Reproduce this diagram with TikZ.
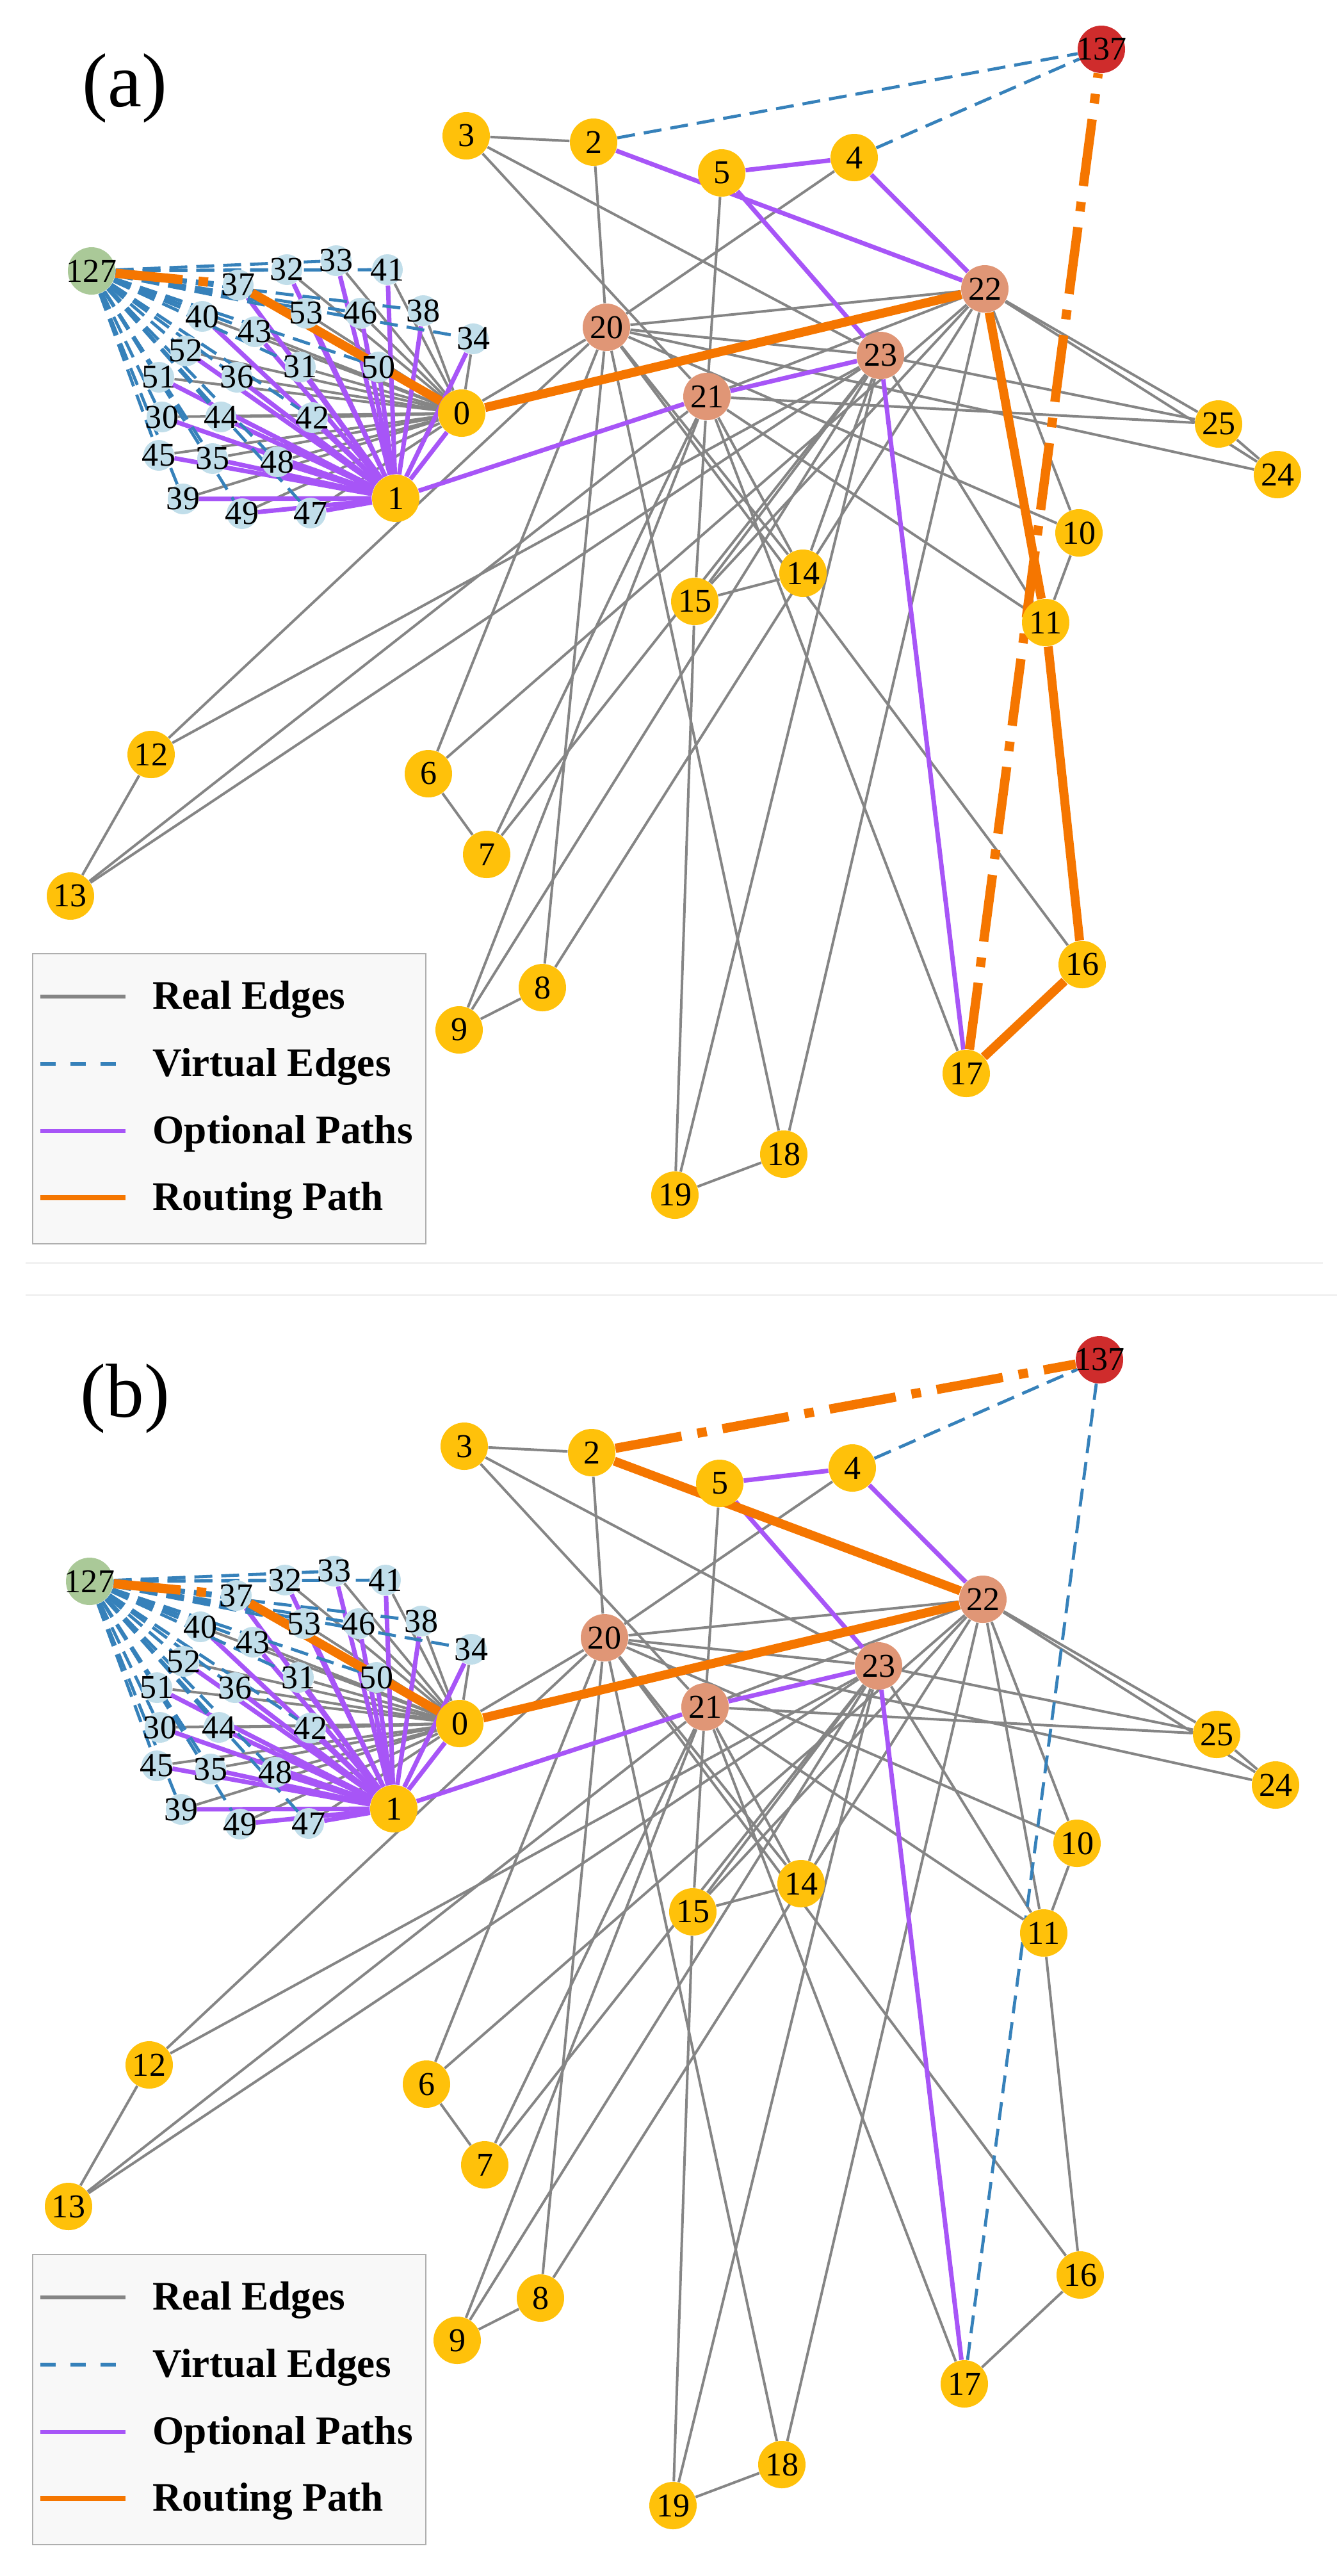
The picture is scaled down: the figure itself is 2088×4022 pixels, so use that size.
\documentclass[tikz,border=0pt]{standalone}
\usepackage{fontspec}
\setmainfont{Liberation Serif}
\usetikzlibrary{backgrounds}
\definecolor{satyellow}{RGB}{255,193,10}
\definecolor{hubsalmon}{RGB}{224,150,118}
\definecolor{gsblue}{RGB}{193,222,234}
\definecolor{srcgreen}{RGB}{170,201,152}
\definecolor{dstred}{RGB}{207,44,44}
\definecolor{realgray}{RGB}{133,133,133}
\definecolor{virtblue}{RGB}{54,129,186}
\definecolor{optpurple}{RGB}{167,85,247}
\definecolor{routeorange}{RGB}{245,118,0}
\definecolor{legendframe}{RGB}{175,175,175}
\definecolor{legendfill}{RGB}{248,248,248}
\definecolor{sepgray}{RGB}{236,236,236}
\tikzset{
  sat/.style={circle,fill=satyellow,minimum size=7.4mm,inner sep=0pt},
  hub/.style={sat,fill=hubsalmon},
  gs/.style={circle,fill=gsblue,minimum size=4.8mm,inner sep=0pt},
  src/.style={sat,fill=srcgreen},
  dst/.style={sat,fill=dstred},
  num/.style={inner sep=0pt,font=\fontsize{14.8}{15}\selectfont},
  realedge/.style={draw=realgray,line width=0.4mm},
  virtedge/.style={draw=virtblue,line width=0.48mm,dash pattern=on 2.8mm off 1.4mm},
  optedge/.style={draw=optpurple,line width=0.7mm},
  routeedge/.style={draw=routeorange,line width=1.4mm},
  routevirt/.style={draw=routeorange,line width=1.45mm,dash pattern=on 10.5mm off 2.5mm on 1.5mm off 2.5mm},
  legtext/.style={anchor=base west,inner sep=0pt,font=\bfseries\fontsize{18}{20}\selectfont},
  panellabel/.style={anchor=base west,inner sep=0pt,font=\fontsize{34}{36}\selectfont},
}

% all nodes of one panel, #1 = panel prefix
\newcommand{\graphnodes}[1]{%
  \node[src] (#1-127) at (143,423) {};
  \node[dst] (#1-137) at (1720,77) {};
  \node[sat] (#1-0) at (721,645) {};
  \node[sat] (#1-1) at (618,778) {};
  \node[sat] (#1-2) at (927,222) {};
  \node[sat] (#1-3) at (728,212) {};
  \node[sat] (#1-4) at (1334,246) {};
  \node[sat] (#1-5) at (1127,270) {};
  \node[sat] (#1-6) at (669,1208) {};
  \node[sat] (#1-7) at (760,1334) {};
  \node[sat] (#1-8) at (847,1542) {};
  \node[sat] (#1-9) at (717,1608) {};
  \node[sat] (#1-10) at (1685,832) {};
  \node[sat] (#1-11) at (1633,972) {};
  \node[sat] (#1-12) at (236,1178) {};
  \node[sat] (#1-13) at (110,1399) {};
  \node[sat] (#1-14) at (1254,895) {};
  \node[sat] (#1-15) at (1085,939) {};
  \node[sat] (#1-16) at (1690,1506) {};
  \node[sat] (#1-17) at (1509,1676) {};
  \node[sat] (#1-18) at (1224,1802) {};
  \node[sat] (#1-19) at (1054,1866) {};
  \node[hub] (#1-20) at (947,511) {};
  \node[hub] (#1-21) at (1104,619) {};
  \node[hub] (#1-22) at (1538,451) {};
  \node[hub] (#1-23) at (1375,555) {};
  \node[sat] (#1-24) at (1995,741) {};
  \node[sat] (#1-25) at (1903,662) {};
  % ground cluster
  \node[gs] (#1-30) at (253,651) {};
  \node[gs] (#1-31) at (469,573) {};
  \node[gs] (#1-32) at (448,421) {};
  \node[gs] (#1-33) at (525,407) {};
  \node[gs] (#1-34) at (739,529) {};
  \node[gs] (#1-35) at (332,716) {};
  \node[gs] (#1-36) at (370,589) {};
  \node[gs] (#1-37) at (372,445) {};
  \node[gs] (#1-38) at (661,485) {};
  \node[gs] (#1-39) at (286,779) {};
  \node[gs] (#1-40) at (316,494) {};
  \node[gs] (#1-41) at (605,421) {};
  \node[gs] (#1-42) at (488,652) {};
  \node[gs] (#1-43) at (398,518) {};
  \node[gs] (#1-44) at (345,651) {};
  \node[gs] (#1-45) at (248,711) {};
  \node[gs] (#1-46) at (563,489) {};
  \node[gs] (#1-47) at (485,801) {};
  \node[gs] (#1-48) at (433,721) {};
  \node[gs] (#1-49) at (378,802) {};
  \node[gs] (#1-50) at (591,573) {};
  \node[gs] (#1-51) at (248,589) {};
  \node[gs] (#1-52) at (290,548) {};
  \node[gs] (#1-53) at (478,489) {};
  % numbers on top
  \foreach \n in {0,...,25} \node[num] (#1-\n-t) at (#1-\n) {\n};
  \foreach \n in {30,...,53} \node[num] (#1-\n-t) at (#1-\n) {\n};
  \node[num] (#1-127-t) at (#1-127) {127};
  \node[num] (#1-137-t) at (#1-137) {137};
}

\newcommand{\realedges}[1]{%
  \foreach \u/\v in {3/2,3/21,3/23,2/20,4/20,5/21,
      20/0,20/22,20/23,20/12,20/6,20/8,20/18,20/16,20/14,20/10,20/24,
      21/22,21/15,21/11,21/25,21/17,21/14,21/9,21/7,21/13,
      22/18,22/8,22/6,22/24,22/25,22/10,22/15,
      23/12,23/13,23/7,23/9,23/19,23/15,23/14,23/25,23/11,
      12/13,6/7,8/9,18/19,14/15,10/11,25/24,15/19}
    \draw[realedge] (#1-\u) -- (#1-\v);
  \foreach \c in {30,...,53} \draw[realedge] (#1-\c) -- (#1-0);
}
\newcommand{\optedges}[1]{%
  \foreach \c in {30,...,53} \draw[optedge] (#1-\c) -- (#1-1);
  \foreach \u/\v in {0/1,1/21,21/23,23/17,5/23,5/4,4/22}
    \draw[optedge] (#1-\u) -- (#1-\v);
}
\newcommand{\virtedges}[1]{%
  \foreach \c in {30,...,53} \draw[virtedge] (#1-127) -- (#1-\c);
}

% legend, #1 = prefix, #2 = top of the frame
\newcommand{\legendbox}[2]{%
  \node[draw=legendframe,fill=legendfill,line width=0.2mm,anchor=north west,
        minimum width=61.4mm,minimum height=45.3mm,inner sep=0pt] (#1-legend) at (50,#2) {};
  \coordinate (#1-l1a) at (63,{#2+68});  \coordinate (#1-l1b) at (196,{#2+68});
  \coordinate (#1-l2a) at (63,{#2+173}); \coordinate (#1-l2b) at (196,{#2+173});
  \coordinate (#1-l3a) at (63,{#2+278}); \coordinate (#1-l3b) at (196,{#2+278});
  \coordinate (#1-l4a) at (63,{#2+382}); \coordinate (#1-l4b) at (196,{#2+382});
  \draw[realgray,line width=0.65mm] (#1-l1a) -- (#1-l1b);
  \draw[virtblue,line width=0.65mm,dash pattern=on 2.4mm off 2.3mm] (#1-l2a) -- (#1-l2b);
  \draw[optpurple,line width=0.65mm] (#1-l3a) -- (#1-l3b);
  \draw[routeorange,line width=0.75mm] (#1-l4a) -- (#1-l4b);
  \node[legtext] (#1-t1) at (238,{#2+87}) {Real Edges};
  \node[legtext] (#1-t2) at (238,{#2+192}) {Virtual Edges};
  \node[legtext] (#1-t3) at (238,{#2+297}) {Optional Paths};
  \node[legtext] (#1-t4) at (238,{#2+401}) {Routing Path};
}

\begin{document}
\begin{tikzpicture}[x=0.1mm,y=-0.1mm]
\useasboundingbox (0,0) rectangle (2088,4022);

% ---------------- panel (a)
\node[panellabel] (lab-a) at (128,166) {(a)};
\graphnodes{a}
\begin{scope}[on background layer]
  \realedges{a}
  \optedges{a}
  \draw[optedge] (a-2) -- (a-22);
  \virtedges{a}
  \draw[virtedge] (a-2) -- (a-137);
  \draw[virtedge] (a-4) -- (a-137);
  % routing path
  \draw[routevirt] (a-127) -- (a-37);
  \draw[routeedge] (a-37) -- (a-0);
  \draw[routeedge] (a-0) -- (a-22);
  \draw[routeedge] (a-22) -- (a-11);
  \draw[routeedge] (a-11) -- (a-16);
  \draw[routeedge] (a-16) -- (a-17);
  \draw[routevirt] (a-17) -- (a-137);
\end{scope}
\legendbox{a}{1488}
\draw[sepgray,line width=0.2mm] (40,1972) -- (2066,1972);
\draw[sepgray,line width=0.2mm] (40,2022) -- (2088,2022);

% ---------------- panel (b)
\begin{scope}[shift={(-3,2046)}]
\node[panellabel] (lab-b) at (128,166) {(b)};
\graphnodes{b}
\begin{scope}[on background layer]
  \realedges{b}
  \foreach \u/\v in {22/11,11/16,16/17} \draw[realedge] (b-\u) -- (b-\v);
  \optedges{b}
  \virtedges{b}
  \draw[virtedge] (b-4) -- (b-137);
  \draw[virtedge] (b-17) -- (b-137);
  % routing path
  \draw[routevirt] (b-127) -- (b-37);
  \draw[routeedge] (b-37) -- (b-0);
  \draw[routeedge] (b-0) -- (b-22);
  \draw[routeedge] (b-22) -- (b-2);
  \draw[routevirt] (b-2) -- (b-137);
\end{scope}
\end{scope}
\legendbox{b}{3519}

\end{tikzpicture}
\end{document}
